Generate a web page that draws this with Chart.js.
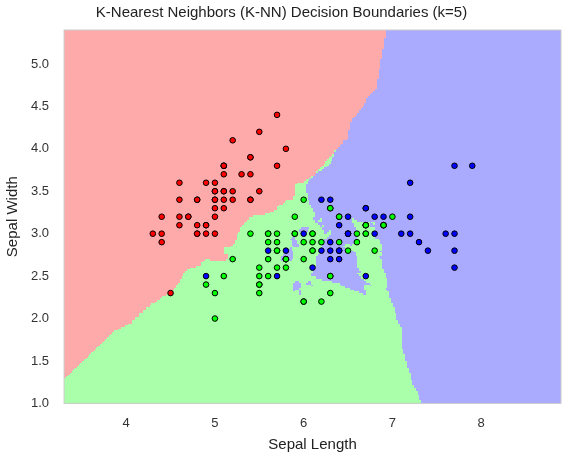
<!DOCTYPE html>
<html>
<head>
<meta charset="utf-8">
<script src="https://cdn.jsdelivr.net/npm/chart.js@4/dist/chart.umd.min.js"></script>
<style>
  html, body { margin: 0; padding: 0; background: #fff; }
  #wrap { width: 571px; height: 457px; }
</style>
</head>
<body>
<div id="wrap"><canvas id="grafico"></canvas></div>
<script>
// ----- Dados (iris: comprimento e largura da sépala) -----
const setosa = [
  [5.1,3.5],[4.9,3.0],[4.7,3.2],[4.6,3.1],[5.0,3.6],[5.4,3.9],[4.6,3.4],[5.0,3.4],[4.4,2.9],[4.9,3.1],
  [5.4,3.7],[4.8,3.4],[4.8,3.0],[4.3,3.0],[5.8,4.0],[5.7,4.4],[5.4,3.9],[5.1,3.5],[5.7,3.8],[5.1,3.8],
  [5.4,3.4],[5.1,3.7],[4.6,3.6],[5.1,3.3],[4.8,3.4],[5.0,3.0],[5.0,3.4],[5.2,3.5],[5.2,3.4],[4.7,3.2],
  [4.8,3.1],[5.4,3.4],[5.2,4.1],[5.5,4.2],[4.9,3.1],[5.0,3.2],[5.5,3.5],[4.9,3.6],[4.4,3.0],[5.1,3.4],
  [5.0,3.5],[4.5,2.3],[4.4,3.2],[5.0,3.5],[5.1,3.8],[4.8,3.0],[5.1,3.8],[4.6,3.2],[5.3,3.7],[5.0,3.3]
];
const versicolor = [
  [7.0,3.2],[6.4,3.2],[6.9,3.1],[5.5,2.3],[6.5,2.8],[5.7,2.8],[6.3,3.3],[4.9,2.4],[6.6,2.9],[5.2,2.7],
  [5.0,2.0],[5.9,3.0],[6.0,2.2],[6.1,2.9],[5.6,2.9],[6.7,3.1],[5.6,3.0],[5.8,2.7],[6.2,2.2],[5.6,2.5],
  [5.9,3.2],[6.1,2.8],[6.3,2.5],[6.1,2.8],[6.4,2.9],[6.6,3.0],[6.8,2.8],[6.7,3.0],[6.0,2.9],[5.7,2.6],
  [5.5,2.4],[5.5,2.4],[5.8,2.7],[6.0,2.7],[5.4,3.0],[6.0,3.4],[6.7,3.1],[6.3,2.3],[5.6,3.0],[5.5,2.5],
  [5.5,2.6],[6.1,3.0],[5.8,2.6],[5.0,2.3],[5.6,2.7],[5.7,3.0],[5.7,2.9],[6.2,2.9],[5.1,2.5],[5.7,2.8]
];
const virginica = [
  [6.3,3.3],[5.8,2.7],[7.1,3.0],[6.3,2.9],[6.5,3.0],[7.6,3.0],[4.9,2.5],[7.3,2.9],[6.7,2.5],[7.2,3.6],
  [6.5,3.2],[6.4,2.7],[6.8,3.0],[5.7,2.5],[5.8,2.8],[6.4,3.2],[6.5,3.0],[7.7,3.8],[7.7,2.6],[6.0,2.2],
  [6.9,3.2],[5.6,2.8],[7.7,2.8],[6.3,2.7],[6.7,3.3],[7.2,3.2],[6.2,2.8],[6.1,3.0],[6.4,2.8],[7.2,3.0],
  [7.4,2.8],[7.9,3.8],[6.4,2.8],[6.3,2.8],[6.1,2.6],[7.7,3.0],[6.3,3.4],[6.4,3.1],[6.0,3.0],[6.9,3.1],
  [6.7,3.1],[6.9,3.1],[5.8,2.7],[6.8,3.2],[6.7,3.3],[6.7,3.0],[6.3,2.5],[6.5,3.0],[6.2,3.4],[5.9,3.0]
];
const classes = [setosa, versicolor, virginica];
const corRegiao = ['#FFAAAA', '#AAFFAA', '#AAAAFF'];
const corPonto = ['#FF0000', '#00FF00', '#0000FF'];
const xTicks = [4, 5, 6, 7, 8];
const yTicks = [1.0, 1.5, 2.0, 2.5, 3.0, 3.5, 4.0, 4.5, 5.0];
const K = 5;
const passo = 0.02;
const xMin = 3.3, xMax = 8.9, yMin = 1.0, yMax = 5.4;

// ----- K-NN -----
const treino = [];
classes.forEach((pts, c) => pts.forEach(p => treino.push({ x: p[0], y: p[1], c })));

function prever(x, y) {
  const d = treino.map((p, i) => ({ d: (p.x - x) ** 2 + (p.y - y) ** 2, i, c: p.c }));
  d.sort((a, b) => a.d - b.d || a.i - b.i);
  const votos = [0, 0, 0];
  for (let k = 0; k < K; k++) votos[d[k].c]++;
  let best = 0;
  for (let c = 1; c < 3; c++) if (votos[c] > votos[best]) best = c;
  return best;
}

const nx = Math.round((xMax - xMin) / passo);
const ny = Math.round((yMax - yMin) / passo);
const grade = [];
for (let j = 0; j < ny; j++) {
  const linha = [];
  for (let i = 0; i < nx; i++) linha.push(prever(xMin + i * passo, yMin + j * passo));
  grade.push(linha);
}

// ----- Plugin para desenhar as regiões -----
const regioes = {
  id: 'regioes',
  beforeDatasetsDraw(chart) {
    const { ctx, scales: { x, y }, chartArea } = chart;
    ctx.save();
    ctx.beginPath();
    ctx.rect(chartArea.left, chartArea.top, chartArea.width, chartArea.height);
    ctx.clip();
    for (let j = 0; j < ny; j++) {
      for (let i = 0; i < nx; i++) {
        const x0 = x.getPixelForValue(xMin + (i - 0.5) * passo);
        const x1 = x.getPixelForValue(xMin + (i + 0.5) * passo);
        const y0 = y.getPixelForValue(yMin + (j + 0.5) * passo);
        const y1 = y.getPixelForValue(yMin + (j - 0.5) * passo);
        ctx.fillStyle = corRegiao[grade[j][i]];
        ctx.fillRect(Math.floor(x0), Math.floor(y0), Math.ceil(x1 - x0) + 1, Math.ceil(y1 - y0) + 1);
      }
    }
    ctx.restore();
  },
  afterDatasetsDraw(chart) {
    const { ctx, chartArea } = chart;
    ctx.save();
    ctx.strokeStyle = '#cccccc';
    ctx.lineWidth = 1;
    ctx.strokeRect(chartArea.left, chartArea.top, chartArea.width, chartArea.height);
    ctx.restore();
  }
};

const fonte = "'Liberation Sans', Arial, sans-serif";
Chart.defaults.font.family = fonte;
Chart.defaults.color = '#333';

new Chart(document.getElementById('grafico'), {
  type: 'scatter',
  data: {
    datasets: classes.map((pts, c) => ({
      data: pts.map(p => ({ x: p[0], y: p[1] })),
      backgroundColor: corPonto[c],
      borderColor: '#000',
      borderWidth: 1,
      pointRadius: 2.8
    }))
  },
  options: {
    responsive: true,
    maintainAspectRatio: false,
    animation: false,
    layout: { padding: { right: 10, left: 2, bottom: 2 } },
    scales: {
      x: {
        min: xMin, max: xMax,
        afterBuildTicks: ax => { ax.ticks = xTicks.map(v => ({ value: v })); },
        ticks: { font: { size: 13 }, color: '#333', padding: 4 },
        grid: { display: false },
        border: { display: false },
        title: { display: true, text: 'Sepal Length', font: { size: 15 }, color: '#222', padding: 1 }
      },
      y: {
        min: yMin, max: yMax,
        afterBuildTicks: ax => { ax.ticks = yTicks.map(v => ({ value: v })); },
        ticks: { font: { size: 13 }, color: '#333', padding: 7, callback: v => v.toFixed(1) },
        grid: { display: false },
        border: { display: false },
        title: { display: true, text: 'Sepal Width', font: { size: 15 }, color: '#222', padding: 2 }
      }
    },
    plugins: {
      legend: { display: false },
      tooltip: { enabled: false },
      title: { display: true, text: 'K-Nearest Neighbors (K-NN) Decision Boundaries (k=5)', font: { size: 15, weight: 'normal' }, color: '#222', padding: { top: 4, bottom: 8 } }
    }
  },
  plugins: [regioes]
});
</script>
</body>
</html>
